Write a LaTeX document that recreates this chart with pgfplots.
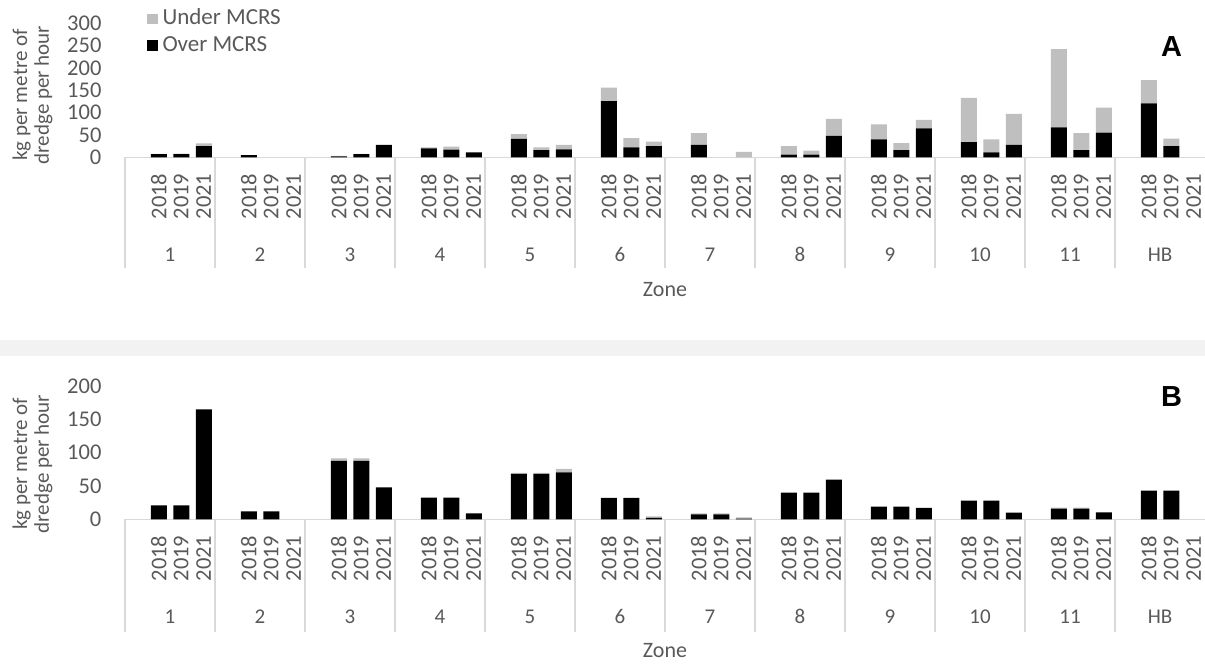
\documentclass[border=0pt]{standalone}
\usepackage{pgfplots}
\usepackage{pgfplotstable}
\pgfplotsset{compat=1.18}
\usepackage{fontspec}
\setmainfont{Carlito}
\newfontfamily\arialfont{Liberation Sans}
\definecolor{txt}{HTML}{595959}
\definecolor{sepgrey}{HTML}{D9D9D9}
\definecolor{bargrey}{HTML}{BFBFBF}
\definecolor{band}{HTML}{F2F2F2}

\pgfplotstableread{
x over under
1 7 0.5
2 7 1
3 25 6
5 5 0
6 0 0
7 0 0
9 2 1
10 7 0.5
11 28 0
13 20 2
14 17 7
15 11 0
17 41 11
18 16 6
19 18 10
21 126 30
22 22 21
23 25 10
25 28 26
26 0 0
27 0 12
29 6 19
30 6 9
31 48 38
33 40 34
34 16 16
35 65 19
37 34 99
38 11 29
39 28 69
41 67 175
42 16 38
43 55 56
45 121 52
46 25 17
47 0 0
}\dataA

\pgfplotstableread{
x over under
1 21 0
2 21 0
3 165 0
5 12 0
6 12 0
7 0 0
9 87.5 4
10 87.5 4
11 48 0
13 32.5 0
14 32.5 0
15 9 0
17 68 1.5
18 68 1.5
19 70.5 5
21 32 0
22 32 0
23 2 2.5
25 7.5 1.5
26 7.5 1.5
27 1 2
29 40 0
30 40 0
31 59.5 0
33 19 0
34 19 0
35 17 0
37 28 0
38 28 0
39 10 0
41 16 1.5
42 16 1.5
43 10.5 0
45 43 0
46 43 0
47 0 0
}\dataB

\tikzset{zonelab/.style={text=txt, font=\fontsize{10.5}{12}\selectfont, anchor=base, inner sep=0pt}}

\pgfplotsset{
  zonestyle/.style={
    scale only axis, width=540pt,
    xmin=-0.5, xmax=47.5, ymin=0,
    clip=false,
    /pgf/number format/assume math mode=true,
    axis line style={draw=none},
    major tick length=0pt,
    xtick={1,2,3,5,6,7,9,10,11,13,14,15,17,18,19,21,22,23,25,26,27,29,30,31,33,34,35,37,38,39,41,42,43,45,46,47},
    xticklabels={2018,2019,2021,2018,2019,2021,2018,2019,2021,2018,2019,2021,2018,2019,2021,2018,2019,2021,2018,2019,2021,2018,2019,2021,2018,2019,2021,2018,2019,2021,2018,2019,2021,2018,2019,2021},
    xticklabel style={rotate=90, anchor=east, inner sep=0pt, text=txt, font=\fontsize{11.25}{13}\selectfont},
    xticklabel shift=8pt,
    yticklabel style={anchor=east, inner sep=0pt, text=txt, font=\fontsize{11.25}{13}\selectfont},
    yticklabel shift=11.6pt,
    ybar stacked, bar width=8pt,
  },
}

\begin{document}
\begin{tikzpicture}
\useasboundingbox (0,0) rectangle (602.5pt,-333pt);
\fill[band] (0pt,-170pt) rectangle (602.5pt,-177.85pt);

% Panel A
\begin{axis}[zonestyle,
  at={(62.5pt,-78.65pt)}, anchor=south west,
  height=67pt, ymax=300, ytick={0,50,...,300},
  reverse legend,
  legend style={at={(rel axis cs:0.0201,1.111)}, anchor=north west, draw=none, fill=none,
     inner sep=0pt, font=\fontsize{11.5}{13}\selectfont, text=txt, row sep=3.3pt,
     nodes={inner sep=0pt, text height=8pt, text depth=2pt}},
  legend cell align=left,
  legend image code/.code={\fill[#1] (0pt,-2.6pt) rectangle (5.2pt,2.6pt);},
]
\addplot[fill=black, draw=none] table[x=x, y=over] {\dataA};
\addlegendentry{\hspace{2.5pt}Over MCRS}
\addplot[fill=bargrey, draw=none] table[x=x, y=under] {\dataA};
\addlegendentry{\hspace{2.5pt}Under MCRS}
\draw[sepgrey, line width=0.75pt] (axis cs:-0.5,0) -- (axis cs:47.5,0);
\pgfplotsinvokeforeach{-0.5,3.5,...,43.5}{\draw[sepgrey, line width=0.75pt] (axis cs:#1,0) -- ++(0pt,-55.5pt);}
\pgfplotsinvokeforeach{1,...,11}{\node[zonelab] at (axis cs:{4*#1-2.5},0) [yshift=-52.3pt] {#1};}
\node[zonelab] at (axis cs:45.5,0) [yshift=-52.3pt] {HB};
\end{axis}

% Panel B
\begin{axis}[zonestyle,
  at={(62.5pt,-259.65pt)}, anchor=south west,
  height=66.65pt, ymax=200, ytick={0,50,...,200},
]
\addplot[fill=black, draw=none] table[x=x, y=over] {\dataB};
\addplot[fill=bargrey, draw=none] table[x=x, y=under] {\dataB};
\draw[sepgrey, line width=0.75pt] (axis cs:-0.5,0) -- (axis cs:47.5,0);
\pgfplotsinvokeforeach{-0.5,3.5,...,43.5}{\draw[sepgrey, line width=0.75pt] (axis cs:#1,0) -- ++(0pt,-56.2pt);}
\pgfplotsinvokeforeach{1,...,11}{\node[zonelab] at (axis cs:{4*#1-2.5},0) [yshift=-52.15pt] {#1};}
\node[zonelab] at (axis cs:45.5,0) [yshift=-52.15pt] {HB};
\end{axis}

% titles
\node[rotate=90, align=center, text=txt, font=\fontsize{10.5}{10.9}\selectfont] at (16.25pt,-47.5pt) {kg per metre of\\dredge per hour};
\node[rotate=90, align=center, text=txt, font=\fontsize{10.5}{10.9}\selectfont] at (16.25pt,-232pt) {kg per metre of\\dredge per hour};
\node[text=txt, font=\fontsize{11}{13}\selectfont] at (332.5pt,-145pt) {Zone};
\node[text=txt, font=\fontsize{11}{13}\selectfont] at (332.5pt,-325.5pt) {Zone};
\node[font=\arialfont\bfseries\fontsize{14.5}{16}\selectfont] at (585.85pt,-23.35pt) {A};
\node[font=\arialfont\bfseries\fontsize{14.5}{16}\selectfont] at (585.85pt,-198.35pt) {B};
\end{tikzpicture}
\end{document}
